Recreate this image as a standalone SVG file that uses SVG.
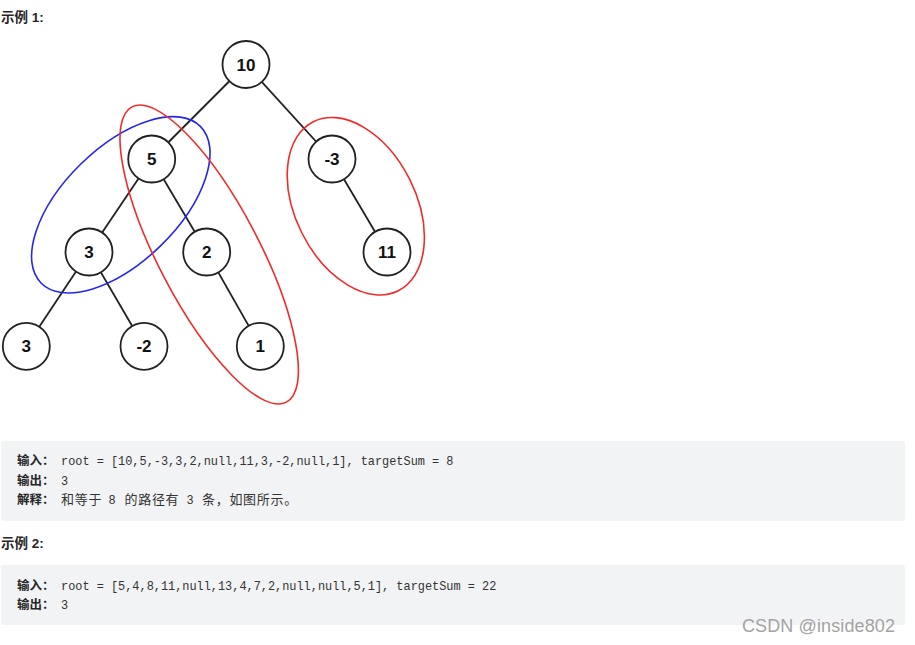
<svg xmlns="http://www.w3.org/2000/svg" width="915" height="645" viewBox="0 0 915 645">
<style>
.node circle{fill:#fff;stroke:#222;stroke-width:1.8}
.node text{font-family:"Liberation Sans",Arial,sans-serif;font-weight:bold;font-size:17px;fill:#111;text-anchor:middle}
.edge{stroke:#222;stroke-width:1.8}
.title{font-family:"Liberation Sans","Noto Sans CJK SC",sans-serif;font-weight:bold;font-size:13.5px;fill:#262626}
.lbl{font-family:"Noto Sans CJK SC",sans-serif;font-weight:bold;font-size:12.5px;fill:#262626}
.code{font-family:"Liberation Mono","Noto Sans CJK SC",monospace;font-size:11.9px;fill:#333}
.cjk{font-family:"Noto Sans CJK SC",sans-serif;font-size:13px;fill:#333;letter-spacing:0.7px}
.box{fill:#f2f3f5}
</style>
<rect width="915" height="645" fill="#fff"/>
<text class="title" x="1" y="22">示例 1:</text>
<g id="connectors">
<line class="edge" x1="246" y1="64.5" x2="151.7" y2="159"/>
<line class="edge" x1="246" y1="64.5" x2="332" y2="159"/>
<line class="edge" x1="151.7" y1="159" x2="89" y2="252"/>
<line class="edge" x1="151.7" y1="159" x2="206.7" y2="252"/>
<line class="edge" x1="332" y1="159" x2="387" y2="252"/>
<line class="edge" x1="89" y1="252" x2="26.3" y2="346.3"/>
<line class="edge" x1="89" y1="252" x2="144" y2="346.3"/>
<line class="edge" x1="206.7" y1="252" x2="260.3" y2="346.3"/>
</g>
<g id="n10" class="node"><circle cx="246" cy="64.5" r="23.5"/><text x="246" y="70.5">10</text></g>
<g id="n5" class="node"><circle cx="151.7" cy="159" r="23.5"/><text x="151.7" y="165">5</text></g>
<g id="nm3" class="node"><circle cx="332" cy="159" r="23.5"/><text x="332" y="165">-3</text></g>
<g id="n3a" class="node"><circle cx="89" cy="252" r="23.5"/><text x="89" y="258">3</text></g>
<g id="n2" class="node"><circle cx="206.7" cy="252" r="23.5"/><text x="206.7" y="258">2</text></g>
<g id="n11" class="node"><circle cx="387" cy="252" r="23.5"/><text x="387" y="258">11</text></g>
<g id="n3b" class="node"><circle cx="26.3" cy="346.3" r="23.5"/><text x="26.3" y="352.3">3</text></g>
<g id="nm2" class="node"><circle cx="144" cy="346.3" r="23.5"/><text x="144" y="352.3">-2</text></g>
<g id="n1" class="node"><circle cx="260.3" cy="346.3" r="23.5"/><text x="260.3" y="352.3">1</text></g>
<g id="paths" fill="none" stroke-width="1.6">
<ellipse cx="120.8" cy="204.8" rx="111.7" ry="57.1" transform="rotate(-44.4 120.8 204.8)" stroke="#2626ee"/>
<ellipse cx="209.2" cy="254.5" rx="166.6" ry="50.5" transform="rotate(62.4 209.2 254.5)" stroke="#f22a2a"/>
<ellipse cx="355.8" cy="206.2" rx="94.6" ry="60.2" transform="rotate(63.3 355.8 206.2)" stroke="#f22a2a"/>
</g>
<rect class="box" x="1" y="441" width="904" height="80" rx="3"/>
<text class="lbl" x="17" y="465">输入：</text>
<text class="code" x="61" y="465">root = [10,5,-3,3,2,null,11,3,-2,null,1], targetSum = 8</text>
<text class="lbl" x="17" y="484.5">输出：</text>
<text class="code" x="61" y="484.5">3</text>
<text class="lbl" x="17" y="504">解释：</text>
<text class="cjk" x="61" y="504">和等于</text>
<text class="code" x="108.5" y="504">8</text>
<text class="cjk" x="124.5" y="504">的路径有</text>
<text class="code" x="186.5" y="504">3</text>
<text class="cjk" x="202" y="504">条，如图所示。</text>
<text class="title" x="1" y="548">示例 2:</text>
<rect class="box" x="1" y="565" width="904" height="60" rx="3"/>
<text class="lbl" x="17" y="589.5">输入：</text>
<text class="code" x="61" y="589.5">root = [5,4,8,11,null,13,4,7,2,null,null,5,1], targetSum = 22</text>
<text class="lbl" x="17" y="609">输出：</text>
<text class="code" x="61" y="609">3</text>
<text x="742" y="632" font-family="Liberation Sans,Arial,sans-serif" font-size="18" fill="#a3a3a3" textLength="153">CSDN @inside802</text>
</svg>
